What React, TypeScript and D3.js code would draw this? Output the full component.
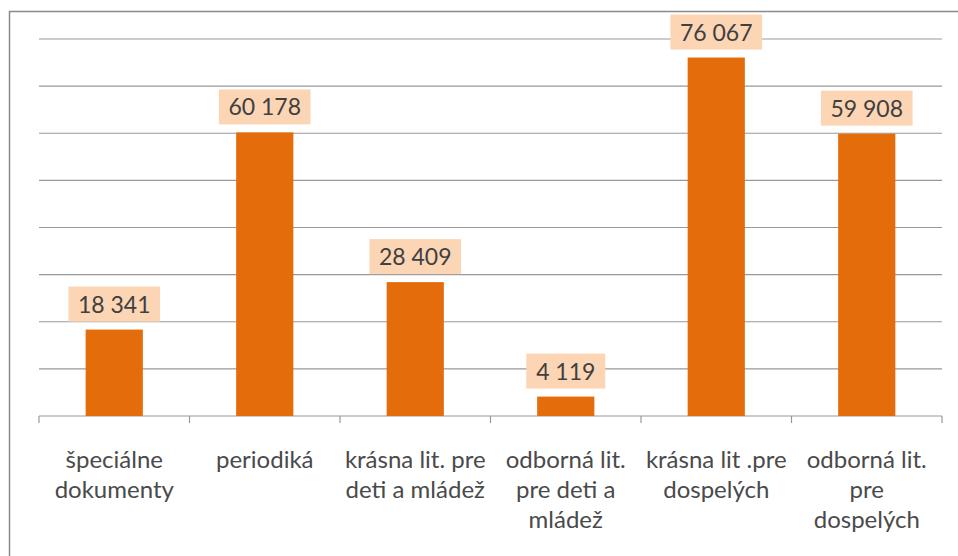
import React from "react";
import * as d3 from "d3";

const categories: string[][] = [
  ["špeciálne", "dokumenty"],
  ["periodiká"],
  ["krásna lit. pre", "deti a mládež"],
  ["odborná lit.", "pre deti a", "mládež"],
  ["krásna lit .pre", "dospelých"],
  ["odborná lit.", "pre", "dospelých"],
];
const values: number[] = [18341, 60178, 28409, 4119, 76067, 59908];
const yTicks: number[] = [0, 10000, 20000, 30000, 40000, 50000, 60000, 70000, 80000];

const W = 958;
const H = 556;
const left = 39;
const right = 942;
const top = 39;
const bottom = 416;

const FONT = "Lato, 'Open Sans', sans-serif";

export default function App() {
  const keys = categories.map((_, i) => String(i));
  const x = d3.scaleBand<string>().domain(keys).range([left, right]).paddingInner(0.62).paddingOuter(0.31);
  const band = d3.scaleBand<string>().domain(keys).range([left, right]).padding(0);
  const y = d3.scaleLinear().domain([0, 80000]).range([bottom, top]);
  const fmt = (v: number) => d3.format(",")(v).replace(/,/g, " ");

  return (
    <svg width={W} height={H} style={{ position: "absolute", left: 0, top: 0, background: "#fff" }}>
      <rect x={9.5} y={11.5} width={960} height={560} fill="#fff" stroke="#8a8a8a" strokeWidth={1.5} />
      {yTicks.map((t) => (
        <line key={t} x1={left} x2={right} y1={y(t)} y2={y(t)} stroke="#999" strokeWidth={1.2} />
      ))}
      {keys.map((k) => (
        <line key={"t" + k} x1={band(k)!} x2={band(k)!} y1={bottom} y2={bottom + 7} stroke="#999" strokeWidth={1.2} />
      ))}
      <line x1={right} x2={right} y1={bottom} y2={bottom + 7} stroke="#999" strokeWidth={1.2} />
      {values.map((v, i) => {
        const k = String(i);
        const cx = x(k)! + x.bandwidth() / 2;
        const label = fmt(v);
        const bw = label.length * 12.6 + 16;
        const bh = 35;
        const by = y(v) - 8 - bh;
        return (
          <g key={k}>
            <rect x={x(k)!} y={y(v)} width={x.bandwidth()} height={bottom - y(v)} fill="#E46C0A" />
            <rect x={cx - bw / 2} y={by} width={bw} height={bh} fill="#FCD5B5" />
            <text x={cx} y={by + bh / 2 + 8.5} textAnchor="middle" fontFamily={FONT} fontSize={23} fill="#404040">
              {label}
            </text>
          </g>
        );
      })}
      {categories.map((lines, i) => {
        const k = String(i);
        const cx = band(k)! + band.bandwidth() / 2;
        return (
          <text key={"c" + k} textAnchor="middle" fontFamily={FONT} fontSize={24} fill="#4a4a4a">
            {lines.map((ln, j) => (
              <tspan key={j} x={cx} y={468 + j * 30}>
                {ln}
              </tspan>
            ))}
          </text>
        );
      })}
    </svg>
  );
}
